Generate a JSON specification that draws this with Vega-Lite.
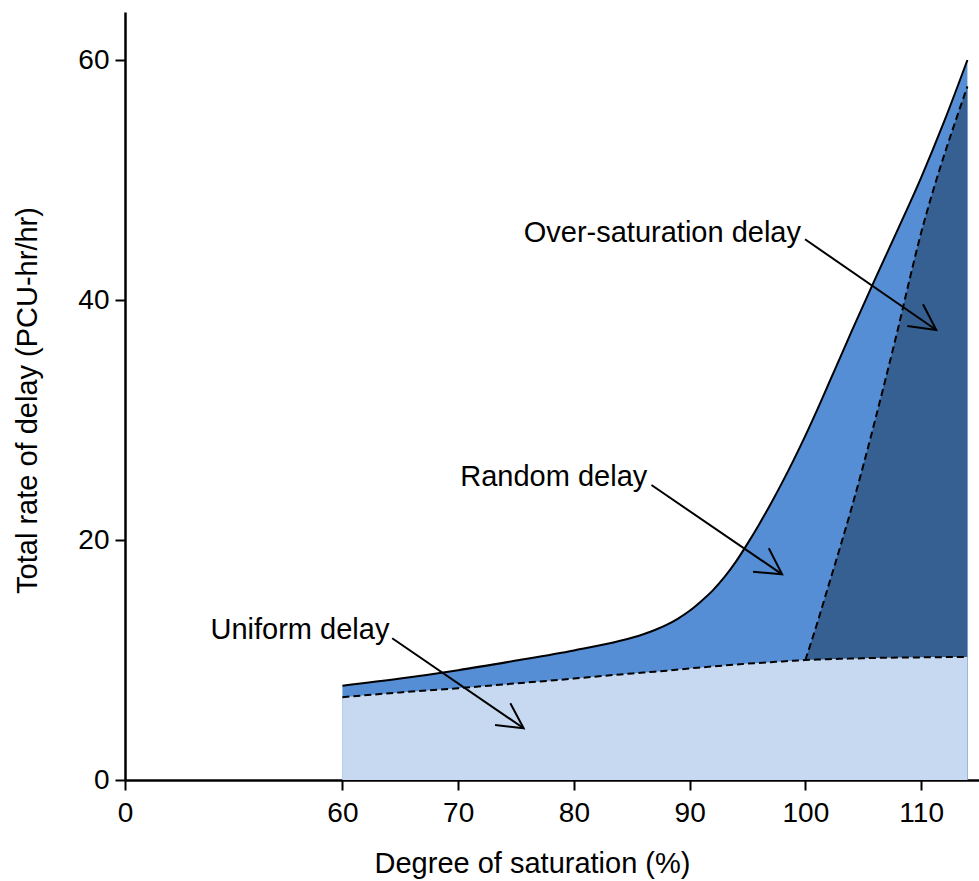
{
  "$schema": "https://vega.github.io/schema/vega-lite/v6.json",
  "width": 854,
  "height": 768,
  "autosize": "none",
  "padding": {"left": 125, "top": 12, "right": 0, "bottom": 101},
  "config": {
    "view": {"stroke": null},
    "font": "Liberation Sans",
    "axis": {
      "domainColor": "black",
      "domainWidth": 2.5,
      "tickColor": "black",
      "tickWidth": 2,
      "tickSize": 10,
      "labelColor": "black",
      "labelFontSize": 28,
      "labelFont": "Liberation Sans",
      "labelFlush": false,
      "titleColor": "black",
      "titleFontSize": 29,
      "titleFont": "Liberation Sans",
      "titleFontWeight": "normal",
      "grid": false
    }
  },
  "datasets": {
    "curves": [
      {"x": 60, "uniform": 6.9, "total": 7.85},
      {"x": 65, "uniform": 7.3, "total": 8.45},
      {"x": 70, "uniform": 7.65, "total": 9.15},
      {"x": 75, "uniform": 8.05, "total": 9.95},
      {"x": 80, "uniform": 8.45, "total": 10.8},
      {"x": 84, "uniform": 8.8, "total": 11.6},
      {"x": 86, "uniform": 8.95, "total": 12.15},
      {"x": 87, "uniform": 9.03, "total": 12.5},
      {"x": 88, "uniform": 9.1, "total": 12.92},
      {"x": 89, "uniform": 9.2, "total": 13.45},
      {"x": 90, "uniform": 9.3, "total": 14.1},
      {"x": 91, "uniform": 9.38, "total": 14.9},
      {"x": 92, "uniform": 9.46, "total": 15.8},
      {"x": 93, "uniform": 9.54, "total": 16.9},
      {"x": 94, "uniform": 9.62, "total": 18.2},
      {"x": 95, "uniform": 9.7, "total": 19.7},
      {"x": 96, "uniform": 9.76, "total": 21.3},
      {"x": 97, "uniform": 9.82, "total": 23.0},
      {"x": 98, "uniform": 9.88, "total": 24.8},
      {"x": 99, "uniform": 9.94, "total": 26.7},
      {"x": 100, "uniform": 10.0, "total": 28.7},
      {"x": 101, "uniform": 10.04, "total": 30.8},
      {"x": 102, "uniform": 10.07, "total": 33.0},
      {"x": 103, "uniform": 10.1, "total": 35.2},
      {"x": 104, "uniform": 10.12, "total": 37.4},
      {"x": 106, "uniform": 10.17, "total": 41.7},
      {"x": 108, "uniform": 10.2, "total": 45.9},
      {"x": 110, "uniform": 10.22, "total": 50.2},
      {"x": 112, "uniform": 10.24, "total": 54.9},
      {"x": 114, "uniform": 10.25, "total": 60.0}
    ],
    "over": [
      {"x": 100, "over": 10.0},
      {"x": 101, "over": 13.0},
      {"x": 102, "over": 16.2},
      {"x": 103, "over": 19.4},
      {"x": 104, "over": 22.7},
      {"x": 105, "over": 26.2},
      {"x": 106, "over": 29.9},
      {"x": 107, "over": 33.7},
      {"x": 108, "over": 37.6},
      {"x": 109, "over": 41.7},
      {"x": 110, "over": 45.6},
      {"x": 111, "over": 49.0},
      {"x": 112, "over": 52.1},
      {"x": 113, "over": 55.0},
      {"x": 114, "over": 57.8}
    ],
    "arrows": [
      {"seg": "o-shaft", "ord": 1, "x": 99.97, "y": 45.06},
      {"seg": "o-shaft", "ord": 2, "x": 111.31, "y": 37.5},
      {"seg": "o-head", "ord": 1, "x": 110.16, "y": 39.64},
      {"seg": "o-head", "ord": 2, "x": 111.31, "y": 37.5},
      {"seg": "o-head", "ord": 3, "x": 108.8, "y": 37.83},
      {"seg": "r-shaft", "ord": 1, "x": 86.7, "y": 24.58},
      {"seg": "r-shaft", "ord": 2, "x": 97.99, "y": 17.14},
      {"seg": "r-head", "ord": 1, "x": 96.84, "y": 19.31},
      {"seg": "r-head", "ord": 2, "x": 97.99, "y": 17.14},
      {"seg": "r-head", "ord": 3, "x": 95.48, "y": 17.36},
      {"seg": "u-shaft", "ord": 1, "x": 64.3, "y": 11.81},
      {"seg": "u-shaft", "ord": 2, "x": 75.66, "y": 4.31},
      {"seg": "u-head", "ord": 1, "x": 74.51, "y": 6.39},
      {"seg": "u-head", "ord": 2, "x": 75.66, "y": 4.31},
      {"seg": "u-head", "ord": 3, "x": 73.19, "y": 4.58}
    ],
    "labels": [
      {"label": "Over-saturation delay", "x": 99.62, "y": 44.8},
      {"label": "Random delay", "x": 86.34, "y": 24.5},
      {"label": "Uniform delay", "x": 64.06, "y": 11.73}
    ]
  },
  "encoding": {
    "x": {
      "field": "x",
      "type": "quantitative",
      "title": "Degree of saturation (%)",
      "scale": {"domain": [0, 60, 115], "range": [0, 217.4, 854], "nice": false, "zero": false},
      "axis": {
        "values": [0, 60, 70, 80, 90, 100, 110],
        "labelPadding": 9,
        "titleX": 407,
        "titleY": 92,
        "titleAlign": "center",
        "titleBaseline": "alphabetic"
      }
    }
  },
  "layer": [
    {
      "data": {"name": "curves"},
      "mark": {"type": "area", "interpolate": "monotone", "color": "#558ed5", "opacity": 1},
      "encoding": {
        "y": {
          "field": "total",
          "type": "quantitative",
          "title": "Total rate of delay (PCU-hr/hr)",
          "scale": {"domain": [0, 64], "nice": false},
          "axis": {
            "values": [0, 20, 40, 60],
            "labelPadding": 6,
            "titleX": -89,
            "titleY": 388,
            "titleAlign": "center",
            "titleBaseline": "alphabetic"
          }
        },
        "y2": {"datum": 0}
      }
    },
    {
      "data": {"name": "over"},
      "mark": {"type": "area", "interpolate": "monotone", "color": "#376092", "opacity": 1},
      "encoding": {
        "y": {"field": "over", "type": "quantitative"},
        "y2": {"datum": 0}
      }
    },
    {
      "data": {"name": "curves"},
      "mark": {"type": "area", "interpolate": "monotone", "color": "#c6d9f1", "opacity": 1},
      "encoding": {
        "y": {"field": "uniform", "type": "quantitative"},
        "y2": {"datum": 0}
      }
    },
    {
      "data": {"name": "curves"},
      "mark": {"type": "line", "interpolate": "monotone", "color": "black", "strokeWidth": 2},
      "encoding": {
        "y": {"field": "total", "type": "quantitative"}
      }
    },
    {
      "data": {"name": "curves"},
      "mark": {"type": "line", "interpolate": "monotone", "color": "black", "strokeWidth": 2, "strokeDash": [7, 4]},
      "encoding": {
        "y": {"field": "uniform", "type": "quantitative"}
      }
    },
    {
      "data": {"name": "over"},
      "mark": {"type": "line", "interpolate": "monotone", "color": "black", "strokeWidth": 2, "strokeDash": [7, 4]},
      "encoding": {
        "y": {"field": "over", "type": "quantitative"}
      }
    },
    {
      "data": {"name": "arrows"},
      "mark": {"type": "line", "color": "black", "strokeWidth": 2},
      "encoding": {
        "y": {"field": "y", "type": "quantitative"},
        "detail": {"field": "seg"},
        "order": {"field": "ord"}
      }
    },
    {
      "data": {"name": "labels"},
      "mark": {"type": "text", "align": "right", "baseline": "alphabetic", "fontSize": 29, "font": "Liberation Sans", "color": "black"},
      "encoding": {
        "y": {"field": "y", "type": "quantitative"},
        "text": {"field": "label"}
      }
    }
  ]
}
